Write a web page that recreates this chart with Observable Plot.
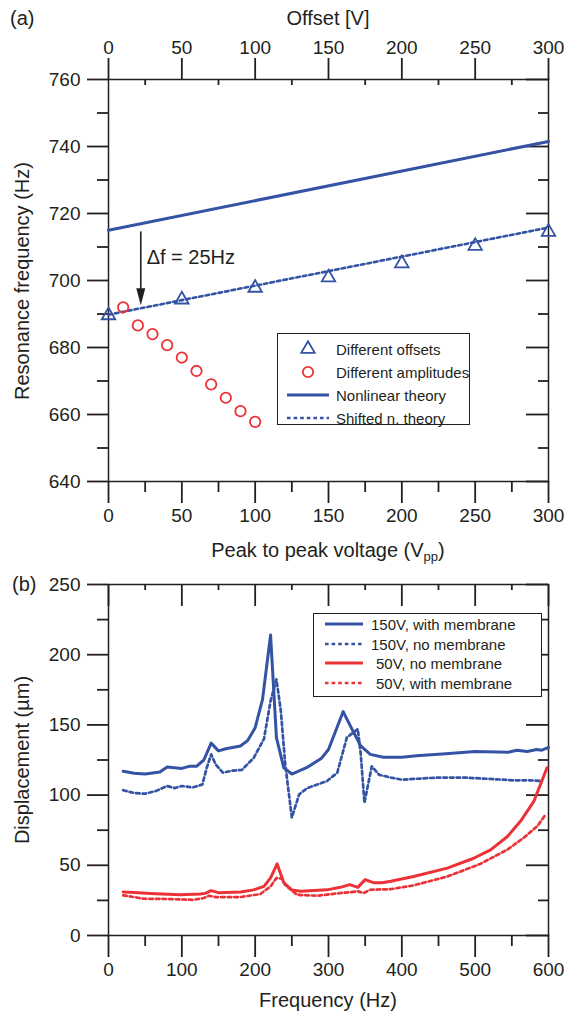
<!DOCTYPE html>
<html><head><meta charset="utf-8">
<script src="https://cdn.jsdelivr.net/npm/d3@7"></script>
<script src="https://cdn.jsdelivr.net/npm/@observablehq/plot@0.6"></script>
<style>
body{margin:0;background:#fff;}
#wrap{position:relative;width:569px;height:1014px;overflow:hidden;font-family:"Liberation Sans",Arial,Helvetica,sans-serif;color:#231f20;}
.abs{position:absolute;white-space:nowrap;line-height:1;}
.plot{position:absolute;left:0;}
.ttl{font-size:20px;}
.rot{transform:translate(-50%,-50%) rotate(-90deg);}
.ctr{transform:translate(-50%,-50%);}
.lg{position:absolute;border:1.5px solid #231f20;background:#fff;box-sizing:border-box;}
.lg svg{position:absolute;left:0;top:0;overflow:visible;}
.lgt{position:absolute;font-size:15px;white-space:nowrap;line-height:1;transform:translateY(-50%);}
sub{font-size:13px;vertical-align:-4px;line-height:0;}
</style></head><body><div id="wrap"></div>
<script>
// ---------- Panel (a) data ----------
const offsetV = [0, 50, 100, 150, 200, 250, 300];
const offsetFreq = [689.6, 694.3, 697.8, 700.9, 705.1, 710.3, 714.5];
const amplitudeV = [10, 20, 30, 40, 50, 60, 70, 80, 90, 100];
const amplitudeFreq = [692, 686.6, 684, 680.7, 677, 673, 669, 665, 661, 657.8];
const theoryV = [0, 300];
const nonlinearFreq = [715, 741.5];
const shiftedFreq = [689.8, 715.8];
const arrowX = [22];
const arrowFrom = [714.5];
const arrowTo = [692.6];
const deltaLabel = ["Δf = 25Hz"];
const deltaLabelX = [26];
const deltaLabelY = [706.8];
const xTicksA = [0, 50, 100, 150, 200, 250, 300];
const xMinorA = [25, 75, 125, 175, 225, 275];
const yTicksA = [640, 660, 680, 700, 720, 740, 760];
const yMinorA = [650, 670, 690, 710, 730, 750];

// ---------- Panel (b) data ----------
const freqBlueSolid = [20,35,50,70,80,100,110,120,130,140,150,160,180,190,200,210,221,229,239,250,270,290,300,320,332,344,357,375,400,420,460,500,545,557,571,584,591,600];
const dispBlueSolid = [117,115.5,115,116.5,120,119,120.5,120.5,125,137,131.5,133,135,139,148,168,214,141,119.5,115,119.5,126,132.5,159.5,147,135,129,127,127,128,129.5,131,130.5,132,131,132.5,132,134];
const freqBlueDot = [20,35,50,65,80,90,100,115,128,134,140,146,156,170,182,198,212,221,229,235,241,250,260,271,298,312,325,340,344,349,359,369,385,400,416,450,485,520,553,575,591];
const dispBlueDot = [103.5,101.5,101,103,106.5,105,106.5,105.5,107.5,119.5,129,122,116,117.5,118,126.5,140,167,182.5,160,122,84,100.5,105,110,116,141,147,129,94.5,120.5,114.5,112.5,111,111.5,112.5,112.5,111.5,110.5,110.5,110];
const freqRedSolid = [20,35,57,98,125,132,140,150,180,198,212,221,230,239,250,262,298,316,329,340,350,362,373,385,416,462,498,521,544,562,580,589,598];
const dispRedSolid = [31,30.7,30,29,29.5,30,32,30.5,31,32.5,35,41,51,37.5,32.5,31.5,32.5,34.3,36.2,34.3,39.8,37.5,37.5,38.6,42,48,55,61,70.5,81.5,95.5,107.5,119.5];
const freqRedDot = [20,48,80,116,130,137,146,180,207,221,229,237,241,257,284,316,340,348,357,385,416,462,507,544,566,585,596];
const dispRedDot = [28.6,26.2,26,25.4,26.7,28.3,27.4,27.4,29.5,35,41,40.5,36,29,28.3,30.2,31.4,30.2,32.6,33,35.7,42,51,61.2,69.5,78,86.2];
const xTicksB = [0, 100, 200, 300, 400, 500, 600];
const xMinorB = [50, 150, 250, 350, 450, 550];
const yTicksB = [0, 50, 100, 150, 200, 250];
const yMinorB = [25, 75, 125, 175, 225];

const legendA = ["Different offsets", "Different amplitudes", "Nonlinear theory", "Shifted n. theory"];
const legendB = ["150V, with membrane", "150V, no membrane", " 50V, no membrane", " 50V, with membrane"];

const BLUE = "#3453a4", RED = "#ec3237", INK = "#231f20";
const FONT = '"Liberation Sans", Arial, Helvetica, sans-serif';
const DASH = "3.6,3";
const zip = (xs, ys) => xs.map((x, i) => ({x, y: ys[i]}));
const none = () => "";
const tw = 1.8;
const FRAME_W = 440;

function frameAxes(xt, xm, yt, ym, topLabels, frameH) {
  const id = d => d;
  const m = [
    Plot.frame({stroke: INK, strokeWidth: 1.5}),
    Plot.axisX({anchor: "bottom", ticks: xt, tickSize: 22, tickPadding: 5, fontSize: 19, strokeWidth: tw, label: null, tickFormat: d => String(d), fill: INK, stroke: INK}),
    Plot.axisX({anchor: "bottom", ticks: xm, tickSize: 11, tickFormat: none, strokeWidth: tw, label: null, stroke: INK}),
    Plot.axisY({anchor: "left", ticks: yt, tickSize: 21, tickPadding: 7, fontSize: 19, strokeWidth: tw, label: null, tickFormat: d => String(d), fill: INK, stroke: INK}),
    Plot.axisY({anchor: "left", ticks: ym, tickSize: 11, tickFormat: none, strokeWidth: tw, label: null, stroke: INK}),
    // mirrored inward ticks on the right side
    Plot.tickY(yt, {y: id, insetLeft: FRAME_W - 22, stroke: INK, strokeWidth: tw}),
    Plot.tickY(ym, {y: id, insetLeft: FRAME_W - 10, stroke: INK, strokeWidth: tw}),
    // inward minor ticks on the top
    Plot.tickX(xm, {x: id, insetBottom: frameH - 6, stroke: INK, strokeWidth: tw})
  ];
  if (topLabels) {
    m.push(Plot.axisX({anchor: "top", ticks: xt, tickSize: 22, tickPadding: 4, fontSize: 19, strokeWidth: tw, label: null, tickFormat: d => String(d), fill: INK, stroke: INK}));
  } else {
    m.push(Plot.tickX(xt, {x: id, insetBottom: frameH - 22, stroke: INK, strokeWidth: tw}));
  }
  return m;
}

const arrowHead = {draw(ctx) { ctx.moveTo(0, 0); ctx.lineTo(-4.5, -17); ctx.lineTo(4.5, -17); ctx.closePath(); }};

const plotA = Plot.plot({
  width: 569, height: 565,
  marginLeft: 108, marginRight: 21, marginTop: 79, marginBottom: 84,
  x: {domain: [0, 300], label: null},
  y: {domain: [640, 760], label: null},
  style: {fontFamily: FONT, fontSize: "19px", color: INK, background: "transparent", overflow: "visible"},
  marks: [
    ...frameAxes(xTicksA, xMinorA, yTicksA, yMinorA, true, 402),
    Plot.line(zip(theoryV, nonlinearFreq), {x: "x", y: "y", stroke: BLUE, strokeWidth: 3}),
    Plot.line(zip(theoryV, shiftedFreq), {x: "x", y: "y", stroke: BLUE, strokeWidth: 2.6, strokeDasharray: DASH}),
    Plot.dot(zip(offsetV, offsetFreq), {x: "x", y: "y", symbol: "triangle", r: 5, stroke: BLUE, strokeWidth: 1.8, fill: "none"}),
    Plot.dot(zip(amplitudeV, amplitudeFreq), {x: "x", y: "y", symbol: "circle", r: 5.2, stroke: RED, strokeWidth: 1.8, fill: "none"}),
    Plot.ruleX(arrowX.map((x, i) => ({x, y1: arrowFrom[i], y2: arrowTo[i] + 3})), {x: "x", y1: "y1", y2: "y2", stroke: INK, strokeWidth: 1.6}),
    Plot.dot(arrowX.map((x, i) => ({x, y: arrowTo[i]})), {x: "x", y: "y", symbol: arrowHead, fill: INK, stroke: "none"}),
    Plot.text(deltaLabel.map((t, i) => ({t, x: deltaLabelX[i], y: deltaLabelY[i]})), {x: "x", y: "y", text: "t", textAnchor: "start", fontSize: 20, fill: INK})
  ]
});

const plotB = Plot.plot({
  width: 569, height: 449,
  marginLeft: 108, marginRight: 21, marginTop: 19, marginBottom: 79,
  x: {domain: [0, 600], label: null},
  y: {domain: [0, 250], label: null},
  style: {fontFamily: FONT, fontSize: "19px", color: INK, background: "transparent", overflow: "visible"},
  marks: [
    ...frameAxes(xTicksB, xMinorB, yTicksB, yMinorB, false, 351),
    Plot.line(zip(freqBlueDot, dispBlueDot), {x: "x", y: "y", stroke: BLUE, strokeWidth: 2.7, strokeDasharray: DASH}),
    Plot.line(zip(freqBlueSolid, dispBlueSolid), {x: "x", y: "y", stroke: BLUE, strokeWidth: 3}),
    Plot.line(zip(freqRedDot, dispRedDot), {x: "x", y: "y", stroke: RED, strokeWidth: 2.7, strokeDasharray: DASH}),
    Plot.line(zip(freqRedSolid, dispRedSolid), {x: "x", y: "y", stroke: RED, strokeWidth: 3})
  ]
});

const wrap = document.getElementById("wrap");
plotA.classList.add("plot"); plotA.style.top = "0px";
plotB.classList.add("plot"); plotB.style.top = "565px";
wrap.appendChild(plotA); wrap.appendChild(plotB);

function addText(html, cls, left, top) {
  const d = document.createElement("div");
  d.className = "abs " + cls;
  d.style.left = left + "px"; d.style.top = top + "px";
  d.innerHTML = html;
  wrap.appendChild(d);
}
addText("(a)", "ttl", 10, 8);
addText("Offset [V]", "ttl ctr", 328, 18);
addText("Resonance frequency (Hz)", "ttl rot", 22, 281);
addText("Peak to peak voltage (V<sub>pp</sub>)", "ttl ctr", 328, 550);
addText("(b)", "ttl", 12, 574);
addText("Displacement (µm)", "ttl rot", 22, 760);
addText("Frequency (Hz)", "ttl ctr", 328, 1000);

// legends
function legend(box, rows, labels, textX) {
  const d = document.createElement("div");
  d.className = "lg";
  Object.assign(d.style, {left: box[0] + "px", top: box[1] + "px", width: box[2] + "px", height: box[3] + "px"});
  const ns = "http://www.w3.org/2000/svg";
  const svg = document.createElementNS(ns, "svg");
  svg.setAttribute("width", box[2]); svg.setAttribute("height", box[3]);
  d.appendChild(svg);
  rows.forEach((r, i) => {
    const cy = r.y - box[1];
    if (r.type === "line") {
      const l = document.createElementNS(ns, "line");
      l.setAttribute("x1", r.x1 - box[0]); l.setAttribute("x2", r.x2 - box[0]);
      l.setAttribute("y1", cy); l.setAttribute("y2", cy);
      l.setAttribute("stroke", r.color); l.setAttribute("stroke-width", r.dash ? 2.6 : 3);
      if (r.dash) l.setAttribute("stroke-dasharray", DASH);
      svg.appendChild(l);
    } else if (r.type === "tri") {
      const p = document.createElementNS(ns, "path");
      const s = d3.symbol(d3.symbolTriangle, 78.5)();
      p.setAttribute("d", s); p.setAttribute("transform", `translate(${r.cx - box[0]},${cy})`);
      p.setAttribute("fill", "none"); p.setAttribute("stroke", r.color); p.setAttribute("stroke-width", 1.8);
      svg.appendChild(p);
    } else {
      const c = document.createElementNS(ns, "circle");
      c.setAttribute("cx", r.cx - box[0]); c.setAttribute("cy", cy); c.setAttribute("r", 5.2);
      c.setAttribute("fill", "none"); c.setAttribute("stroke", r.color); c.setAttribute("stroke-width", 1.8);
      svg.appendChild(c);
    }
    const t = document.createElement("div");
    t.className = "lgt";
    t.style.left = (textX[i] - box[0]) + "px"; t.style.top = cy + "px";
    t.textContent = labels[i];
    d.appendChild(t);
  });
  wrap.appendChild(d);
}
legend([277, 333, 193, 92], [
  {type: "tri", cx: 307, y: 348, color: BLUE},
  {type: "circ", cx: 307, y: 371, color: RED},
  {type: "line", x1: 286, x2: 328, y: 394, color: BLUE},
  {type: "line", x1: 286, x2: 328, y: 417, color: BLUE, dash: true}
], legendA, [335, 335, 335, 335]);
legend([313, 613, 229, 84], [
  {type: "line", x1: 324, x2: 362, y: 623, color: BLUE},
  {type: "line", x1: 324, x2: 362, y: 643, color: BLUE, dash: true},
  {type: "line", x1: 324, x2: 362, y: 662, color: RED},
  {type: "line", x1: 324, x2: 362, y: 682, color: RED, dash: true}
], legendB.map(s => s.trim()), [370, 370, 375, 375]);
</script></body></html>
